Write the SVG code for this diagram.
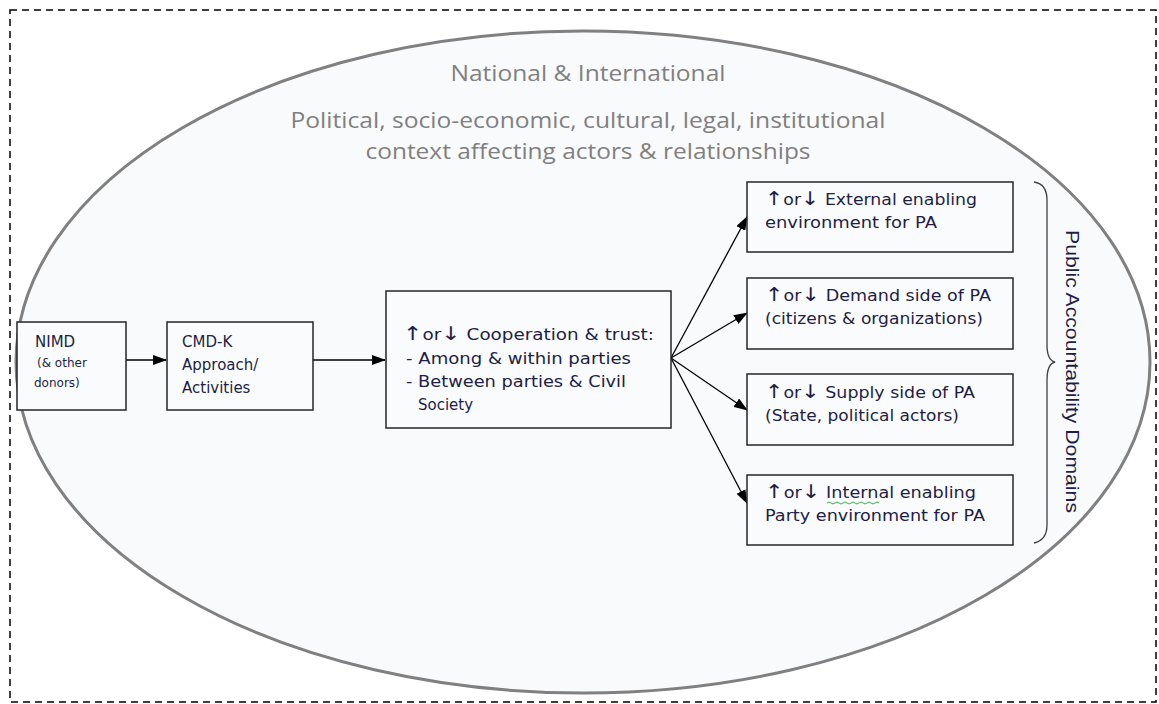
<svg xmlns="http://www.w3.org/2000/svg" width="1159" height="704" viewBox="0 0 1159 704">
<style>
.box{fill:#fafbfd;stroke:#262626;stroke-width:1.5}
.t{font-family:"DejaVu Sans",Verdana,sans-serif;font-size:15px;fill:#1e1e46}
.s{font-size:12px}
.a{font-size:19px}
.h{font-family:"Open Sans","Liberation Sans",sans-serif;font-size:22px;fill:#808080;text-anchor:middle}
.c{stroke:#000;stroke-width:1.3;fill:none;marker-end:url(#ah)}
</style>
<defs>
<marker id="ah" markerWidth="14" markerHeight="10" refX="13" refY="5" orient="auto" markerUnits="userSpaceOnUse">
<path d="M0,0 L14,5 L0,10 z" fill="#000"/>
</marker>
</defs>
<rect x="10" y="10" width="1146" height="692" fill="#fff" stroke="#000" stroke-width="1.5" stroke-dasharray="7,5"/>
<g id="context">
<ellipse cx="583" cy="362" rx="567" ry="331" fill="#f9fafc" stroke="#808080" stroke-width="3"/>
<text class="h" x="588" y="81" textLength="275" lengthAdjust="spacingAndGlyphs">National &amp; International</text>
<text class="h" x="588" y="128" textLength="595" lengthAdjust="spacingAndGlyphs">Political, socio-economic, cultural, legal, institutional</text>
<text class="h" x="588" y="159" textLength="445" lengthAdjust="spacingAndGlyphs">context affecting actors &amp; relationships</text>
</g>
<g id="connectors">
<line class="c" x1="126" y1="360" x2="166" y2="360"/>
<line class="c" x1="313" y1="360" x2="385" y2="360"/>
<line class="c" x1="671" y1="358" x2="747" y2="217"/>
<line class="c" x1="671" y1="358" x2="747" y2="313"/>
<line class="c" x1="671" y1="358" x2="747" y2="410"/>
<line class="c" x1="671" y1="358" x2="747" y2="503"/>
</g>
<g id="nimd">
<rect class="box" x="17" y="322" width="109" height="88"/>
<text class="t" x="35" y="347">NIMD</text>
<text class="t s" x="37" y="367">(&amp; other</text>
<text class="t s" x="34" y="387">donors)</text>
</g>
<g id="cmdk">
<rect class="box" x="167" y="322" width="146" height="88"/>
<text class="t" x="182" y="347">CMD-K</text>
<text class="t" x="182" y="370">Approach/</text>
<text class="t" x="182" y="393">Activities</text>
</g>
<g id="cooperation">
<rect class="box" x="386" y="291" width="285" height="137"/>
<text class="t" x="403" y="340" textLength="251" lengthAdjust="spacingAndGlyphs"><tspan class="a">↑</tspan>or<tspan class="a">↓</tspan> Cooperation &amp; trust:</text>
<text class="t" x="406" y="364" textLength="225" lengthAdjust="spacingAndGlyphs">- Among &amp; within parties</text>
<text class="t" x="406" y="387" textLength="220" lengthAdjust="spacingAndGlyphs">- Between parties &amp; Civil</text>
<text class="t" x="418" y="410">Society</text>
</g>
<g id="external">
<rect class="box" x="747" y="182" width="266" height="70"/>
<text class="t" x="765" y="205" textLength="212" lengthAdjust="spacingAndGlyphs"><tspan class="a">↑</tspan>or<tspan class="a">↓</tspan> External enabling</text>
<text class="t" x="765" y="228" textLength="172" lengthAdjust="spacingAndGlyphs">environment for PA</text>
</g>
<g id="demand">
<rect class="box" x="747" y="278" width="266" height="71"/>
<text class="t" x="765" y="301" textLength="226" lengthAdjust="spacingAndGlyphs"><tspan class="a">↑</tspan>or<tspan class="a">↓</tspan> Demand side of PA</text>
<text class="t" x="765" y="324" textLength="218" lengthAdjust="spacingAndGlyphs">(citizens &amp; organizations)</text>
</g>
<g id="supply">
<rect class="box" x="747" y="374" width="266" height="71"/>
<text class="t" x="765" y="398" textLength="210" lengthAdjust="spacingAndGlyphs"><tspan class="a">↑</tspan>or<tspan class="a">↓</tspan> Supply side of PA</text>
<text class="t" x="765" y="421" textLength="194" lengthAdjust="spacingAndGlyphs">(State, political actors)</text>
</g>
<g id="internal">
<rect class="box" x="747" y="475" width="266" height="70"/>
<text class="t" x="765" y="498" textLength="211" lengthAdjust="spacingAndGlyphs"><tspan class="a">↑</tspan>or<tspan class="a">↓</tspan> Internal enabling</text>
<text class="t" x="765" y="521" textLength="220" lengthAdjust="spacingAndGlyphs">Party environment for PA</text>
<path d="M827,503 q2,-2 4,0 t4,0 t4,0 t4,0 t4,0 t4,0 t4,0 t4,0 t4,0 t4,0 t4,0 t4,0 t4,0" fill="none" stroke="#3cb043" stroke-width="1"/>
</g>
<g id="domains">
<path d="M1034,182 Q1047,184 1047,200 L1047,345 Q1047,360 1055,362 Q1047,364 1047,380 L1047,525 Q1047,540 1034,543" fill="none" stroke="#404040" stroke-width="1.3"/>
<text class="t" transform="translate(1066,230) rotate(90)" style="font-family:'Liberation Sans',Arial,sans-serif;font-size:18px" textLength="283" lengthAdjust="spacingAndGlyphs">Public Accountability Domains</text>
</g>
</svg>
